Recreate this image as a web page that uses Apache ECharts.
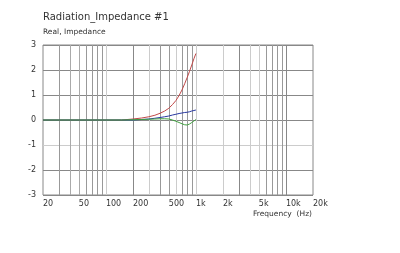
<!DOCTYPE html>
<html><head><meta charset="utf-8">
<script src="https://cdn.jsdelivr.net/npm/echarts@6/dist/echarts.min.js"></script>
<style>html,body{margin:0;padding:0;background:#fff}#c{width:400px;height:253px}</style>
</head><body><div id="c"></div>
<script>
var freqs = [20, 30, 50, 100, 150, 200, 250, 300, 350, 400, 450, 500, 550, 600, 650, 700, 750, 800, 850, 900, 950, 1000];
var redVals = [0, 0, 0, 0, 0, 0.04, 0.08, 0.13, 0.19, 0.27, 0.36, 0.47, 0.62, 0.78, 0.98, 1.2, 1.45, 1.7, 1.95, 2.2, 2.45, 2.66];
var blueVals = [0, 0, 0, 0, 0, 0.0, 0.02, 0.04, 0.07, 0.1, 0.13, 0.16, 0.2, 0.23, 0.26, 0.28, 0.3, 0.31, 0.33, 0.36, 0.38, 0.4];
var greenVals = [0, 0, 0, 0, 0, 0.01, 0.02, 0.03, 0.04, 0.05, 0.05, 0.04, 0.0, -0.05, -0.1, -0.15, -0.19, -0.2, -0.16, -0.1, -0.04, 0.02];
var gridFreqs = [30, 40, 50, 60, 70, 80, 90, 100, 200, 300, 400, 500, 600, 700, 800, 900, 1000, 2000, 3000, 4000, 5000, 6000, 7000, 8000, 9000, 10000];
var labelFreqs = [20, 50, 100, 200, 500, 1000, 2000, 5000, 10000, 20000];

function pairs(vals) { return freqs.map(function (f, i) { return [f, vals[i]]; }); }
function fmtF(v) { return v >= 1000 ? (v / 1000) + 'k' : String(v); }

var chart = echarts.init(document.getElementById('c'), null, {renderer: 'canvas'});
var FONT = 'DejaVu Sans';
chart.setOption({
  animation: false,
  backgroundColor: '#fff',
  title: [
    {text: 'Radiation_Impedance #1', left: 38, top: 7, textStyle: {fontFamily: FONT, fontSize: 10, fontWeight: 'normal', color: '#333'}},
    {text: 'Real, Impedance', left: 38, top: 23, textStyle: {fontFamily: FONT, fontSize: 7.5, fontWeight: 'normal', color: '#333'}},
    {text: 'Frequency  (Hz)', right: 83, top: 205, textStyle: {fontFamily: FONT, fontSize: 7.5, fontWeight: 'normal', color: '#333'}}
  ],
  grid: {left: 43, right: 87, top: 45, bottom: 58, show: true, borderColor: '#888', borderWidth: 1},
  xAxis: {
    type: 'log', logBase: 10, min: 20, max: 20000,
    axisLine: {show: false},
    axisTick: {show: false, customValues: gridFreqs},
    splitLine: {show: true, lineStyle: {width: 1, color: ['#999', '#aaa', '#aaa', '#999', '#999', '#999', '#999', '#ccc', '#888', '#ccc', '#999', '#999', '#ccc', '#999', '#999', '#999', '#ccc', '#ccc', '#888', '#ccc', '#ccc', '#999', '#999', '#999', '#999', '#888']}},
    minorSplitLine: {show: false},
    axisLabel: {customValues: labelFreqs, formatter: fmtF, align: 'left', margin: 5, fontFamily: FONT, fontSize: 8, color: '#333'}
  },
  yAxis: {
    type: 'value', min: -3, max: 3, interval: 1,
    axisLine: {show: false}, axisTick: {show: false},
    splitLine: {show: true, lineStyle: {width: 1, color: ['#888', '#888', '#ccc', '#888', '#888', '#888', '#888']}},
    axisLabel: {margin: 7, fontFamily: FONT, fontSize: 8, color: '#333'}
  },
  series: [
    {type: 'line', data: pairs(redVals), showSymbol: false, lineStyle: {color: '#c04848', width: 1}, itemStyle: {color: '#c04848'}},
    {type: 'line', data: pairs(blueVals), showSymbol: false, lineStyle: {color: '#2838a0', width: 1}, itemStyle: {color: '#2838a0'}},
    {type: 'line', data: pairs(greenVals), showSymbol: false, lineStyle: {color: '#40a040', width: 1}, itemStyle: {color: '#40a040'}}
  ]
});
</script></body></html>
